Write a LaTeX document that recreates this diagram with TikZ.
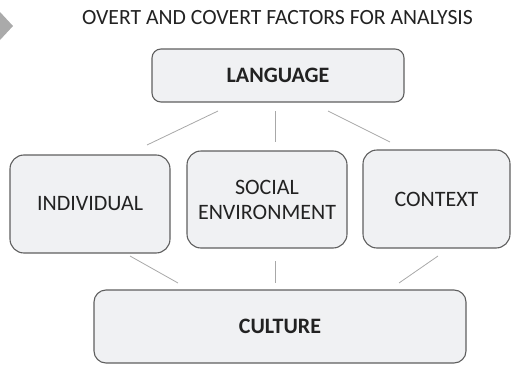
\documentclass[tikz,border=0pt]{standalone}
\usepackage{fontspec}
\setmainfont{Carlito}
\definecolor{boxfill}{HTML}{F0F1F3}
\definecolor{boxdraw}{HTML}{5F5F5F}
\definecolor{linkc}{HTML}{A8A8A8}
\definecolor{arrowc}{HTML}{AAAAAA}
\definecolor{textc}{HTML}{222222}
\begin{document}
\begin{tikzpicture}[x=1pt,y=-1pt,text=textc,
  fbox/.style={draw=boxdraw,fill=boxfill,line width=1.1pt,rounded corners=9pt,inner sep=0pt,align=center,font=\fontsize{22}{25}\selectfont},
  link/.style={draw=linkc,line width=0.8pt}]
\useasboundingbox (0,0) rectangle (511,364);
\fill[arrowc] (0,12) -- (13,26) -- (0,40) -- cycle;
\node[font=\fontsize{21.7}{24}\selectfont] (title) at (277.5,18) {OVERT AND COVERT FACTORS FOR ANALYSIS};
\node[fbox,minimum width=252pt,minimum height=53pt,font=\fontsize{22}{25}\selectfont\bfseries] (lang) at (278,75.5) {LANGUAGE};
\node[fbox,minimum width=160pt,minimum height=98pt,rounded corners=14pt] (ind) at (90,204) {INDIVIDUAL};
\node[fbox,minimum width=160pt,minimum height=97pt,rounded corners=14pt] (soc) at (267,199.5) {SOCIAL\\ENVIRONMENT};
\node[fbox,minimum width=147pt,minimum height=98pt,rounded corners=14pt] (ctx) at (436.5,199) {CONTEXT};
\node[fbox,minimum width=372pt,minimum height=73pt,rounded corners=12pt,font=\fontsize{22}{25}\selectfont\bfseries] (cul) at (280,326.5) {CULTURE};
% connector end points
\coordinate (l1) at (218,111); \coordinate (i1) at (147,145);
\coordinate (l2) at (275,111); \coordinate (s1) at (275,142);
\coordinate (l3) at (328,111); \coordinate (c1) at (390,142);
\coordinate (i2) at (130,256); \coordinate (u1) at (178,283);
\coordinate (s2) at (275,261); \coordinate (u2) at (275,283);
\coordinate (c2) at (438,256); \coordinate (u3) at (399,283);
\draw[link] (l1) -- (i1);
\draw[link] (l2) -- (s1);
\draw[link] (l3) -- (c1);
\draw[link] (i2) -- (u1);
\draw[link] (s2) -- (u2);
\draw[link] (c2) -- (u3);
\end{tikzpicture}
\end{document}
